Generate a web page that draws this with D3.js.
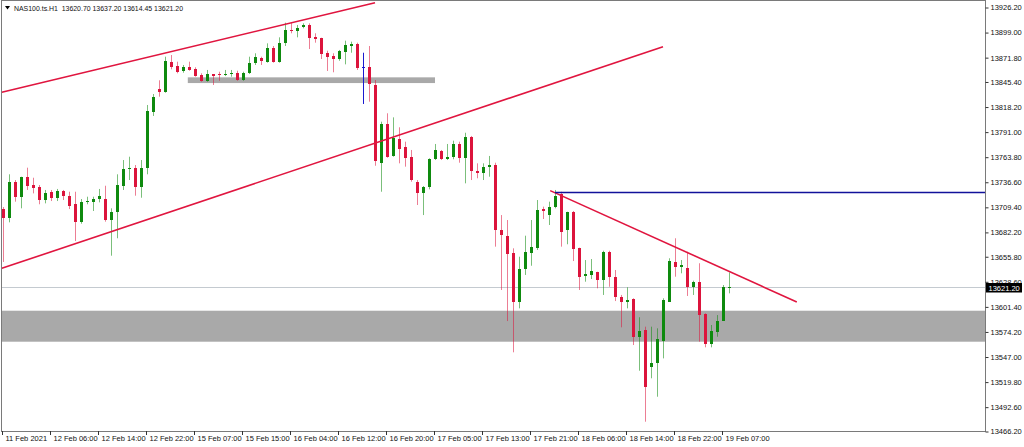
<!DOCTYPE html>
<html><head><meta charset="utf-8">
<script src="https://cdn.jsdelivr.net/npm/d3@7"></script>
<style>
html,body{margin:0;padding:0;background:#fff;}
svg{display:block;font-family:"Liberation Sans",Arial,sans-serif;}
</style></head><body>
<svg id="chart" width="1024" height="447"></svg>
<script>
// ---------- DATA ----------
const symbolTitle = "NAS100.ts.H1";
const opens = [13706.0,13696.5,13735.6,13719.3,13740.4,13732.0,13729.5,13715.7,13724.1,13717.6,
13725.5,13720.4,13711.1,13692.2,13713.2,13713.9,13716.8,13717.1,13694.0,13703.0,
13731.2,13749.0,13750.8,13730.2,13750.8,13811.5,13836.1,13833.2,13865.8,13861.1,
13855.7,13859.7,13857.5,13851.0,13845.1,13852.1,13852.1,13851.3,13852.1,13853.8,
13845.9,13853.2,13864.7,13870.1,13865.8,13880.3,13865.8,13885.7,13900.2,13899.4,
13903.1,13905.6,13892.2,13891.8,13875.5,13871.9,13868.4,13876.6,13882.8,13885.0,
13859.7,13860.3,13840.5,13755.5,13798.2,13763.6,13781.6,13773.5,13762.7,13735.6,
13723.0,13729.5,13759.9,13769.2,13759.9,13762.7,13776.5,13760.9,13784.4,13747.2,
13745.3,13751.2,13753.7,13683.2,13677.0,13657.9,13604.7,13640.9,13657.9,13663.3,
13705.9,13699.4,13708.5,13721.9,13683.2,13703.0,13663.3,13633.6,13634.4,13637.3,
13628.9,13659.6,13632.5,13610.2,13605.1,13608.3,13566.8,13574.7,13534.9,13538.5,
13563.1,13605.4,13648.1,13642.7,13641.6,13621.0,13627.1,13591.7,13559.5,13572.8,
13584.8,13620.70];
const highs = [13708.1,13743.6,13737.4,13741.0,13750.8,13739.9,13732.0,13726.6,13726.6,13727.7,
13726.6,13724.7,13724.7,13716.8,13719.3,13719.3,13727.7,13731.2,13706.7,13743.6,
13759.1,13762.7,13753.7,13759.1,13818.8,13830.7,13845.6,13871.2,13873.0,13865.8,
13862.2,13865.8,13859.7,13853.2,13856.8,13852.4,13854.9,13856.8,13856.8,13856.0,
13854.9,13871.2,13874.9,13871.2,13885.7,13882.8,13892.2,13908.1,13907.7,13905.6,
13907.4,13907.4,13896.6,13891.8,13877.7,13874.9,13878.5,13888.6,13887.5,13886.4,
13875.5,13882.8,13845.9,13800.7,13809.8,13805.4,13794.6,13779.0,13770.0,13737.4,
13730.9,13761.0,13776.5,13770.0,13776.5,13780.1,13779.0,13788.7,13785.2,13755.5,
13755.5,13763.5,13756.2,13699.4,13694.0,13663.3,13654.2,13677.0,13694.0,13715.7,
13708.5,13713.9,13726.6,13724.7,13703.0,13703.8,13664.0,13650.6,13651.7,13637.9,
13660.7,13660.7,13639.8,13612.7,13621.0,13609.1,13588.5,13578.3,13578.3,13576.5,
13609.1,13652.5,13674.2,13650.6,13659.6,13628.2,13647.1,13592.8,13580.1,13590.9,
13623.5,13637.20];
const lows = [13648.5,13691.5,13713.9,13706.7,13726.6,13722.9,13711.1,13712.1,13714.6,13714.6,
13715.7,13705.9,13671.2,13690.0,13711.1,13703.8,13713.2,13692.2,13655.3,13674.2,
13726.6,13737.4,13720.4,13718.2,13743.6,13806.9,13827.8,13832.1,13857.5,13853.2,
13853.8,13856.0,13849.5,13844.1,13844.1,13840.5,13845.1,13850.2,13849.5,13845.1,
13845.1,13852.4,13862.2,13862.2,13864.7,13864.7,13864.7,13882.8,13896.6,13892.2,
13902.0,13879.5,13886.4,13868.7,13855.7,13854.3,13866.8,13862.9,13875.5,13856.8,
13819.9,13822.4,13752.9,13724.7,13761.6,13762.7,13755.5,13751.9,13735.6,13710.3,
13699.4,13727.3,13759.1,13759.1,13759.1,13759.9,13756.2,13733.8,13737.4,13739.3,
13737.4,13741.0,13665.1,13618.1,13584.4,13550.5,13598.2,13634.4,13644.4,13661.5,
13695.1,13688.6,13706.7,13665.1,13667.7,13649.5,13618.1,13627.1,13630.0,13619.9,
13612.7,13621.6,13606.1,13577.6,13598.2,13558.4,13530.5,13475.2,13522.3,13502.3,
13543.9,13605.1,13632.5,13636.2,13611.6,13612.7,13562.0,13555.9,13555.9,13567.4,
13584.8,13614.45];
const closes = [13696.2,13735.6,13719.3,13740.4,13731.2,13729.1,13715.7,13722.9,13717.6,13725.5,
13720.4,13709.5,13692.2,13713.2,13714.6,13716.8,13720.4,13694.0,13703.0,13732.0,
13749.4,13750.8,13730.2,13750.8,13812.3,13827.8,13833.2,13866.8,13860.3,13854.9,
13859.7,13856.8,13850.2,13845.1,13852.1,13850.6,13851.0,13852.4,13853.8,13845.9,
13853.8,13864.7,13871.2,13866.5,13880.3,13865.8,13886.4,13900.2,13899.6,13902.6,
13905.6,13891.8,13890.1,13874.1,13871.2,13868.7,13877.4,13883.9,13885.0,13859.3,
13859.7,13842.0,13758.0,13798.2,13762.7,13782.7,13770.7,13761.6,13737.4,13723.0,
13730.2,13760.2,13770.0,13759.9,13762.7,13776.5,13760.9,13783.7,13747.5,13744.7,
13751.2,13753.7,13683.2,13677.8,13656.8,13604.7,13640.9,13659.0,13665.1,13704.9,
13703.8,13708.5,13720.1,13681.3,13702.4,13662.6,13632.5,13635.1,13638.7,13628.9,
13659.6,13632.5,13610.8,13604.7,13607.2,13567.4,13573.9,13513.2,13539.2,13564.6,
13607.2,13649.5,13643.4,13645.2,13621.0,13627.1,13590.9,13559.5,13573.9,13584.8,
13621.0,13621.20];

const xTickLabels = ["11 Feb 2021","12 Feb 06:00","12 Feb 14:00","12 Feb 22:00","15 Feb 07:00",
"15 Feb 15:00","16 Feb 04:00","16 Feb 12:00","16 Feb 20:00","17 Feb 05:00","17 Feb 13:00",
"17 Feb 21:00","18 Feb 06:00","18 Feb 14:00","18 Feb 22:00","19 Feb 07:00"];
const xTickBars = [0,8,16,24,32,40,48,56,64,72,80,88,96,104,112,120];
const yTickValues = [13926.20,13899.00,13871.80,13845.40,13818.20,13791.00,13763.80,13736.60,
13709.40,13682.20,13655.80,13628.60,13601.40,13574.20,13547.00,13519.80,13492.60,13466.20];

// chart objects (bar index, price)
const supportZone = [13562.0, 13595.6];
const resistanceZone = [13842.6, 13848.8];
const resistanceZoneBars = [30.8, 72];
const blueLevel = 13723.9;
const blueLevelStartBar = 92;
const upperChannel = [[-0.2, 13832.6], [62, 13929.8]];
const lowerChannel = [[-0.2, 13641.6], [110, 13882.1]];
const downTrend = [[91.2, 13725.9], [132.3, 13605.1]];

// ---------- DRAW ----------
const svg = d3.select("#chart");
const plot = {left:1, right:985, top:0, bottom:431};
const x = d3.scaleLinear().domain([0,164]).range([3,987]);
const y = d3.scaleLinear().domain([13466.2,13926.2]).range([430,6]);

svg.append("defs").append("clipPath").attr("id","clip")
  .append("rect").attr("x",plot.left).attr("y",plot.top)
  .attr("width",plot.right-plot.left).attr("height",plot.bottom-plot.top);

const g = svg.append("g").attr("clip-path","url(#clip)");

const GREY = "#a9a9a9";
// support zone (full width)
g.append("rect").attr("x",plot.left).attr("width",plot.right-plot.left)
  .attr("y",y(supportZone[1])).attr("height",y(supportZone[0])-y(supportZone[1]))
  .attr("fill",GREY);
// resistance band
g.append("rect").attr("x",x(resistanceZoneBars[0])).attr("width",x(resistanceZoneBars[1])-x(resistanceZoneBars[0]))
  .attr("y",y(resistanceZone[1])).attr("height",y(resistanceZone[0])-y(resistanceZone[1]))
  .attr("fill",GREY);

// current price line
const last = closes.length-1;
const yc = Math.round(y(closes[last]))+0.5;
g.append("line").attr("x1",plot.left).attr("x2",plot.right).attr("y1",yc).attr("y2",yc)
  .attr("stroke","#c4cad0").attr("stroke-width",1);

// candles
const BULL = "#0e8a0e", BEAR = "#dc143c", DOJI = "#1a1ad0";
const idx = d3.range(opens.length);
const colorOf = i => closes[i] > opens[i] ? BULL : (closes[i] < opens[i] ? BEAR : DOJI);
const cg = g.append("g");
cg.selectAll("line.wick").data(idx).join("line").attr("class","wick")
  .attr("x1",i=>x(i)+0.5).attr("x2",i=>x(i)+0.5)
  .attr("y1",i=>y(highs[i])).attr("y2",i=>y(lows[i]))
  .attr("stroke",colorOf).attr("stroke-opacity",i=>colorOf(i)===DOJI?1:0.55).attr("stroke-width",1);
cg.selectAll("rect.body").data(idx).join("rect").attr("class","body")
  .attr("x",i=>x(i)-1).attr("width",3)
  .attr("y",i=>Math.round(y(Math.max(opens[i],closes[i]))))
  .attr("height",i=>Math.max(1, Math.round(y(Math.min(opens[i],closes[i])))-Math.round(y(Math.max(opens[i],closes[i])))))
  .attr("fill",colorOf);

// trend lines
const line = d3.line().x(d=>x(d[0])).y(d=>y(d[1]));
const RED = "#e0153f";
[upperChannel, lowerChannel, downTrend].forEach(pts=>{
  g.append("path").attr("d",line(pts)).attr("fill","none")
   .attr("stroke",RED).attr("stroke-width",1.6);
});
// blue horizontal ray
g.append("line").attr("x1",x(blueLevelStartBar)).attr("x2",plot.right)
  .attr("y1",y(blueLevel)).attr("y2",y(blueLevel))
  .attr("stroke","#12129a").attr("stroke-width",1.6);

// frame
const FRAME = "#7a7a7a";
svg.append("rect").attr("x",1.5).attr("y",0.5).attr("width",984).attr("height",431)
  .attr("fill","none").attr("stroke",FRAME).attr("stroke-width",1);

// y axis (right)
const yAxis = d3.axisRight(y).tickValues(yTickValues).tickSize(3).tickPadding(2)
  .tickFormat(d3.format(".2f"));
const ya = svg.append("g").attr("transform","translate(985.5,1.5)").call(yAxis);
ya.select(".domain").remove();
ya.selectAll(".tick line").attr("stroke","#333");
ya.selectAll("text").attr("font-size",7.5).attr("fill","#111").attr("font-family","Liberation Sans, Arial, sans-serif");

// x axis (bottom)
const xAxis = d3.axisBottom(x).tickValues(xTickBars).tickSize(4).tickPadding(1)
  .tickFormat((d,i)=>xTickLabels[i]);
const xa = svg.append("g").attr("transform","translate(-1,431)").call(xAxis);
xa.select(".domain").remove();
xa.selectAll(".tick line").attr("stroke","#333");
xa.selectAll("text").attr("text-anchor","start").attr("x",3)
  .attr("font-size",7.5).attr("fill","#111").attr("font-family","Liberation Sans, Arial, sans-serif");

// current price label
const pl = svg.append("g");
pl.append("rect").attr("x",986).attr("y",yc-4.5).attr("width",36).attr("height",9.5).attr("fill","#000");
pl.append("text").attr("x",988.5).attr("y",yc+3).attr("font-size",7.5).attr("fill","#fff")
  .text(d3.format(".2f")(closes[last]));

// title
svg.append("path").attr("d","M5,6 L10,6 L7.5,9.5 Z").attr("fill","#000");
svg.append("text").attr("x",14).attr("y",11).attr("font-size",7.5).attr("fill","#111")
  .attr("xml:space","preserve").attr("textLength",169).attr("lengthAdjust","spacingAndGlyphs")
  .text(symbolTitle + "  " + [opens[last],highs[last],lows[last],closes[last]].map(d3.format(".2f")).join(" "));
</script>
</body></html>
